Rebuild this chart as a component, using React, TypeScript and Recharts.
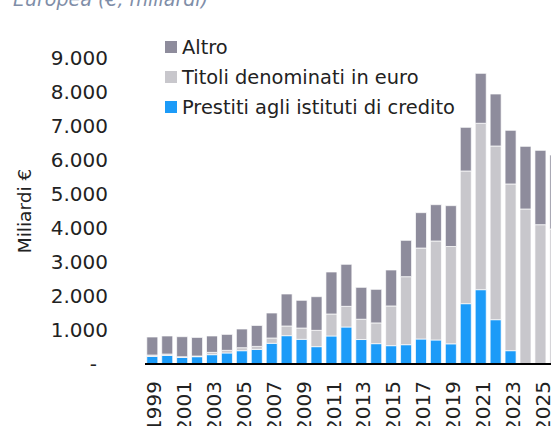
import React from 'react';
import { BarChart, Bar, XAxis, YAxis, Legend } from 'recharts';

const years = ['1999','2000','2001','2002','2003','2004','2005','2006','2007','2008','2009','2010','2011','2012','2013','2014','2015','2016','2017','2018','2019','2020','2021','2022','2023','2024','2025','2026'];
const prestiti = [224,253,194,215,274,324,391,430,609,833,726,510,824,1088,720,598,539,568,735,706,593,1774,2186,1303,392,0,0,0];
const titoli = [40,40,20,20,68,78,88,88,156,285,332,480,647,608,597,610,1168,2000,2676,2912,2863,3903,4894,5109,4903,4559,4097,3971];
const altro = [530,531,589,547,482,469,550,617,735,941,815,990,1235,1236,938,988,1058,1069,1040,1068,1201,1284,1469,1529,1578,1843,2187,2176];
const yTicks = [0,1000,2000,3000,4000,5000,6000,7000,8000,9000];

const seriesNames = { altro: 'Altro', titoli: 'Titoli denominati in euro', prestiti: 'Prestiti agli istituti di credito' };
const colors = { altro: '#8E8C9C', titoli: '#C8C7CC', prestiti: '#1C9BF8' };

const data = years.map((y, i) => ({ year: y, prestiti: prestiti[i], titoli: titoli[i], altro: altro[i] }));

const FONT = '"DejaVu Sans", sans-serif';

const fmt = (v: number) => (v === 0 ? '-' : String(v).replace(/\B(?=(\d{3})+(?!\d))/g, '.'));

const YTick = (props: any) => {
  const { x, y, payload } = props;
  const v = payload.value;
  return (
    <text x={x - (v === 0 ? 40 : 29)} y={y} dy="0.36em" textAnchor="end" fontFamily={FONT} fontSize={20} fill="#222">
      {fmt(v)}
    </text>
  );
};

const XTick = (props: any) => {
  const { x, y, payload } = props;
  return (
    <text transform={`translate(${x},${y + 9}) rotate(-90)`} textAnchor="end" dy="0.45em" fontFamily={FONT} fontSize={20} fill="#222">
      {payload.value}
    </text>
  );
};

const LegendContent = () => {
  const order: Array<'altro' | 'titoli' | 'prestiti'> = ['altro', 'titoli', 'prestiti'];
  return (
    <div style={{ fontFamily: FONT, fontSize: 19.4, color: '#222' }}>
      {order.map((k) => (
        <div key={k} style={{ display: 'flex', alignItems: 'center', height: 30, whiteSpace: 'nowrap' }}>
          <span style={{ display: 'inline-block', width: 12, height: 12, background: colors[k], marginRight: 5 }} />
          <span>{seriesNames[k]}</span>
        </div>
      ))}
    </div>
  );
};

export default function App() {
  return (
    <div style={{ position: 'fixed', left: 0, top: 0, width: 551, height: 426, overflow: 'hidden', background: '#fff' }}>
      <div style={{ position: 'absolute', left: 13, top: -11, fontFamily: FONT, fontStyle: 'italic', fontSize: 19, lineHeight: '20px', color: '#7F8EA8', whiteSpace: 'nowrap' }}>
        Europea (€, miliardi)
      </div>
      <div style={{ position: 'absolute', left: 0, top: 0 }}>
        <BarChart width={570} height={426} data={data} margin={{ top: 58, right: 7, bottom: 0, left: 0 }} barCategoryGap="12%">
          <XAxis dataKey="year" height={62} interval={1} tickLine={false} axisLine={{ stroke: '#000', strokeWidth: 2 }} tick={<XTick />} />
          <YAxis width={145} domain={[0, 9000]} ticks={yTicks} tickLine={false} axisLine={false} tick={<YTick />} interval={0}
            label={{ value: 'Miliardi €', angle: -90, position: 'center', dx: -48, style: { fontFamily: FONT, fontSize: 18.5, fill: '#222' } }} />
          <Legend layout="vertical" align="center" verticalAlign="middle" content={<LegendContent />}
            wrapperStyle={{ left: 165, top: 32, width: 320, height: 90 }} />
          <Bar dataKey="prestiti" name={seriesNames.prestiti} stackId="a" fill={colors.prestiti} stroke="#ffffff" strokeWidth={0.7} isAnimationActive={false} />
          <Bar dataKey="titoli" name={seriesNames.titoli} stackId="a" fill={colors.titoli} stroke="#ffffff" strokeWidth={0.7} isAnimationActive={false} />
          <Bar dataKey="altro" name={seriesNames.altro} stackId="a" fill={colors.altro} stroke="#ffffff" strokeWidth={0.7} isAnimationActive={false} />
        </BarChart>
      </div>
    </div>
  );
}
